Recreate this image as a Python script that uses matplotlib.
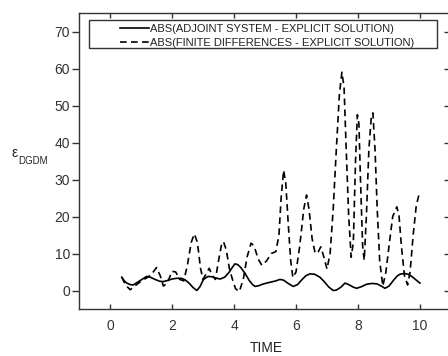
import matplotlib
matplotlib.use("Agg")
import matplotlib.pyplot as plt
from matplotlib.patches import Rectangle

plt.rcParams['font.family'] = ['Liberation Sans', 'DejaVu Sans']

# Adjoint system - explicit solution (solid)
t_adj = [0.38, 0.46, 0.54, 0.65, 0.75, 0.9, 1.05, 1.18, 1.3, 1.45, 1.6, 1.72, 1.85, 2.0, 2.15,
         2.3, 2.42, 2.55, 2.68, 2.80, 2.9, 3.01, 3.1, 3.17, 3.3, 3.45, 3.55, 3.7, 3.85, 3.95,
         4.03, 4.12, 4.22, 4.35, 4.5, 4.6, 4.68, 4.8, 4.92, 5.05, 5.2, 5.35, 5.48, 5.6, 5.75,
         5.91, 6.05, 6.2, 6.32, 6.45, 6.6, 6.77, 6.9, 7.05, 7.2, 7.3, 7.45, 7.58, 7.7, 7.85,
         7.96, 8.1, 8.28, 8.45, 8.61, 8.75, 8.87, 9.0, 9.15, 9.25, 9.35, 9.5, 9.62, 9.75, 9.88, 10.0]
v_adj = [3.6, 2.6, 2.0, 1.6, 1.5, 2.3, 3.1, 3.8, 3.6, 3.0, 2.5, 2.4, 2.7, 3.1, 3.3,
         3.3, 2.9, 2.0, 0.8, 0.0, 1.0, 2.9, 3.5, 3.8, 3.7, 3.3, 3.1, 3.6, 5.0, 6.3,
         7.2, 7.0, 6.2, 4.7, 2.6, 1.6, 1.1, 1.3, 1.7, 2.0, 2.3, 2.6, 3.0, 2.8, 1.9,
         1.1, 1.6, 3.0, 4.0, 4.5, 4.4, 3.6, 2.5, 1.0, 0.0, 0.1, 0.9, 2.0, 1.6, 0.9,
         0.6, 1.0, 1.7, 1.9, 1.8, 1.2, 0.6, 1.2, 2.8, 3.8, 4.4, 4.6, 4.4, 3.7, 2.8, 2.0]

# Finite differences - explicit solution (dashed)
t_fd = [0.38, 0.5, 0.65, 0.8, 1.0, 1.2, 1.35, 1.5, 1.62, 1.72, 1.85, 2.0, 2.12, 2.25, 2.38,
        2.5, 2.62, 2.72, 2.82, 2.92, 3.0, 3.1, 3.2, 3.3, 3.4, 3.5, 3.6, 3.66, 3.75, 3.85,
        3.95, 4.05, 4.17, 4.3, 4.42, 4.55, 4.65, 4.78, 4.9, 5.05, 5.2, 5.35, 5.45, 5.52,
        5.6, 5.67, 5.75, 5.83, 5.9, 6.0, 6.12, 6.25, 6.34, 6.42, 6.52, 6.62, 6.72, 6.8,
        6.9, 7.0, 7.1, 7.2, 7.3, 7.4, 7.48, 7.55, 7.62, 7.7, 7.78, 7.85, 7.92, 7.98, 8.03,
        8.08, 8.15, 8.2, 8.27, 8.35, 8.43, 8.48, 8.55, 8.62, 8.7, 8.8, 8.9, 9.0, 9.12,
        9.25, 9.32, 9.4, 9.5, 9.6, 9.68, 9.78, 9.88, 9.98]
v_fd = [3.6, 1.5, 0.2, 1.2, 2.5, 3.5, 4.5, 6.2, 4.0, 1.2, 2.0, 5.2, 5.0, 3.0, 2.6,
        7.0, 13.0, 15.3, 13.0, 6.0, 3.0, 4.5, 6.0, 4.0, 3.0, 8.0, 12.5, 13.2, 11.0, 6.0,
        3.0, 0.5, -0.3, 3.0, 9.0, 12.8, 12.0, 8.5, 6.8, 8.0, 10.0, 10.5, 15.0, 25.0,
        32.5, 29.0, 18.0, 8.0, 3.5, 5.0, 12.0, 22.0, 25.8, 22.0, 14.0, 10.0, 10.5, 11.8,
        9.0, 5.8, 10.0, 22.0, 38.0, 53.0, 59.0, 55.0, 38.0, 20.0, 9.0, 13.0, 35.0, 47.5, 45.0,
        30.0, 12.0, 8.2, 20.0, 38.0, 47.0, 48.0, 38.0, 22.0, 8.0, 1.2, 5.0, 12.0, 20.0,
        22.6, 20.5, 12.0, 4.0, 1.5, 5.0, 15.0, 23.0, 26.3]

label_adj = 'ABS(ADJOINT SYSTEM - EXPLICIT SOLUTION)'
label_fd = 'ABS(FINITE DIFFERENCES - EXPLICIT SOLUTION)'

W, H = 448, 356
fig = plt.figure(figsize=(W / 100, H / 100), dpi=100)
L, R, T, B = 79, 451, 13, 309
ax = fig.add_axes([L / W, (H - B) / H, (R - L) / W, (B - T) / H])

ax.plot(t_adj, v_adj, color='black', lw=1.2, label=label_adj)
ax.plot(t_fd, v_fd, color='black', lw=1.2, linestyle=(0, (4.0, 2.6)), label=label_fd)

ax.set_xlim(-1, 11)
ax.set_ylim(-5, 75)
ax.set_xticks([0, 2, 4, 6, 8, 10])
ax.set_yticks([0, 10, 20, 30, 40, 50, 60, 70])

for s in ax.spines.values():
    s.set_linewidth(1.0)
    s.set_color('#333333')

ax.tick_params(axis='x', which='both', direction='in', length=3.5, width=1.0,
               top=True, labelsize=10, pad=7, colors='#333333')
ax.tick_params(axis='y', which='both', direction='out', length=5, width=1.0,
               labelsize=10, pad=1.5, colors='#333333')
ax.tick_params(axis='y', right=True)
# right ticks inward
for tk in ax.yaxis.get_major_ticks():
    tk.tick2line.set_marker(matplotlib.lines.TICKLEFT)
    tk.tick2line.set_markersize(5)

fig.text(266 / W, 1 - 348 / H, 'TIME', fontsize=10, color='#222222', ha='center', va='center')

fig.text(11 / W, 1 - 157 / H, 'ε', fontsize=10, color='#222222', va='baseline', ha='left')
fig.text(18 / W, 1 - 164 / H, 'DGDM', fontsize=7, color='#222222', va='baseline', ha='left')

# legend box
x0 = (89 - L) / (R - L)
x1 = (437 - L) / (R - L)
y0 = (B - 48) / (B - T)
y1 = (B - 20) / (B - T)
ax.add_patch(Rectangle((x0, y0), x1 - x0, y1 - y0, transform=ax.transAxes,
                       fill=False, lw=1.0, edgecolor='#333333', zorder=5))
leg = ax.legend(loc='upper left', bbox_to_anchor=((118 - L) / (R - L), (B - 22) / (B - T)),
                frameon=False, fontsize=8, handlelength=2.6, handletextpad=0.1,
                labelspacing=0.32, borderpad=0.2, borderaxespad=0)
for tx in leg.get_texts():
    tx.set_color('#222222')

fig.savefig('out.png', dpi=100)
